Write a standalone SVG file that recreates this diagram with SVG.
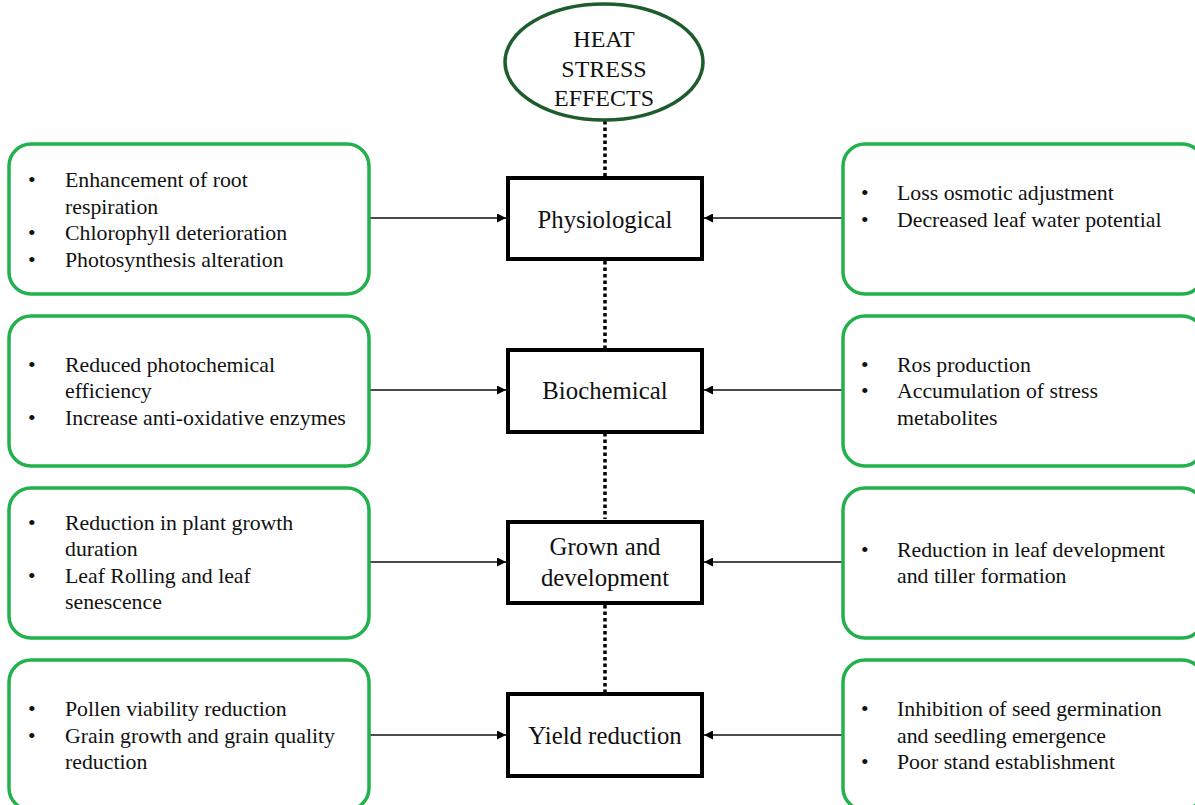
<svg xmlns="http://www.w3.org/2000/svg" width="1195" height="805" viewBox="0 0 1195 805">
<style>
.side{fill:#fff;stroke:#22b14c;stroke-width:3.5}
.mid{fill:#fff;stroke:#000;stroke-width:4}
.t{font-family:"Liberation Serif","Times New Roman",serif;font-size:21.8px;fill:#111}
.c{font-family:"Liberation Serif","Times New Roman",serif;font-size:24.8px;fill:#111;text-anchor:middle}
.e{font-family:"Liberation Serif","Times New Roman",serif;font-size:24px;fill:#111;text-anchor:middle}
.arr{stroke:#111;stroke-width:1.5;fill:none;marker-end:url(#ah)}
.dot{stroke:#000;stroke-width:3.5;stroke-dasharray:3.5 3;fill:none}
</style>
<defs>
<marker id="ah" viewBox="0 0 10 10" refX="10" refY="5" markerWidth="7" markerHeight="6" orient="auto" markerUnits="strokeWidth">
<path d="M0,0 L10,5 L0,10 z" fill="#000"/>
</marker>
</defs>
<rect width="1195" height="805" fill="#fff"/>
<g id="connectors">
<line class="dot" x1="605" y1="121" x2="605" y2="176"/>
<line class="dot" x1="605" y1="261" x2="605" y2="348"/>
<line class="dot" x1="605" y1="433" x2="605" y2="519"/>
<line class="dot" x1="605" y1="605" x2="605" y2="692"/>
<line class="arr" x1="369" y1="218" x2="506" y2="218"/>
<line class="arr" x1="843" y1="218" x2="704" y2="218"/>
<line class="arr" x1="369" y1="390" x2="506" y2="390"/>
<line class="arr" x1="843" y1="390" x2="704" y2="390"/>
<line class="arr" x1="369" y1="562" x2="506" y2="562"/>
<line class="arr" x1="843" y1="562" x2="704" y2="562"/>
<line class="arr" x1="369" y1="735" x2="506" y2="735"/>
<line class="arr" x1="843" y1="735" x2="704" y2="735"/>
</g>
<g id="heat-stress">
<ellipse cx="604" cy="62" rx="99" ry="58" fill="#fff" stroke="#1d5c2c" stroke-width="3.5"/>
<text class="e" x="604" y="47">HEAT</text>
<text class="e" x="604" y="77">STRESS</text>
<text class="e" x="604" y="106">EFFECTS</text>
</g>
<g id="physiological">
<rect class="mid" x="508" y="178" width="194" height="81"/>
<text class="c" x="605" y="228">Physiological</text>
</g>
<g id="biochemical">
<rect class="mid" x="508" y="350" width="194" height="82"/>
<text class="c" x="605" y="399">Biochemical</text>
</g>
<g id="growth">
<rect class="mid" x="508" y="522" width="194" height="81"/>
<text class="c" x="605" y="555">Grown and</text>
<text class="c" x="605" y="586">development</text>
</g>
<g id="yield">
<rect class="mid" x="508" y="694" width="194" height="82"/>
<text class="c" x="605" y="744">Yield reduction</text>
</g>
<g id="left-physiological">
<rect class="side" x="9" y="144" width="360" height="150" rx="22"/>
<text class="t" x="28" y="187">•</text><text class="t" x="65" y="187">Enhancement of root</text>
<text class="t" x="65" y="214">respiration</text>
<text class="t" x="28" y="240">•</text><text class="t" x="65" y="240">Chlorophyll deterioration</text>
<text class="t" x="28" y="267">•</text><text class="t" x="65" y="267">Photosynthesis alteration</text>
</g>
<g id="right-physiological">
<rect class="side" x="843" y="144" width="361" height="150" rx="22"/>
<text class="t" x="861" y="200">•</text><text class="t" x="897" y="200">Loss osmotic adjustment</text>
<text class="t" x="861" y="227">•</text><text class="t" x="897" y="227">Decreased leaf water potential</text>
</g>
<g id="left-biochemical">
<rect class="side" x="9" y="316" width="360" height="150" rx="22"/>
<text class="t" x="28" y="372">•</text><text class="t" x="65" y="372">Reduced photochemical</text>
<text class="t" x="65" y="398">efficiency</text>
<text class="t" x="28" y="425">•</text><text class="t" x="65" y="425">Increase anti-oxidative enzymes</text>
</g>
<g id="right-biochemical">
<rect class="side" x="843" y="316" width="361" height="150" rx="22"/>
<text class="t" x="861" y="372">•</text><text class="t" x="897" y="372">Ros production</text>
<text class="t" x="861" y="398">•</text><text class="t" x="897" y="398">Accumulation of stress</text>
<text class="t" x="897" y="425">metabolites</text>
</g>
<g id="left-growth">
<rect class="side" x="9" y="488" width="360" height="150" rx="22"/>
<text class="t" x="28" y="530">•</text><text class="t" x="65" y="530">Reduction in plant growth</text>
<text class="t" x="65" y="556">duration</text>
<text class="t" x="28" y="583">•</text><text class="t" x="65" y="583">Leaf Rolling and leaf</text>
<text class="t" x="65" y="609">senescence</text>
</g>
<g id="right-growth">
<rect class="side" x="843" y="488" width="361" height="150" rx="22"/>
<text class="t" x="861" y="557">•</text><text class="t" x="897" y="557">Reduction in leaf development</text>
<text class="t" x="897" y="583">and tiller formation</text>
</g>
<g id="left-yield">
<rect class="side" x="9" y="660" width="360" height="150" rx="22"/>
<text class="t" x="28" y="716">•</text><text class="t" x="65" y="716">Pollen viability reduction</text>
<text class="t" x="28" y="743">•</text><text class="t" x="65" y="743">Grain growth and grain quality</text>
<text class="t" x="65" y="769">reduction</text>
</g>
<g id="right-yield">
<rect class="side" x="843" y="660" width="361" height="150" rx="22"/>
<text class="t" x="861" y="716">•</text><text class="t" x="897" y="716">Inhibition of seed germination</text>
<text class="t" x="897" y="743">and seedling emergence</text>
<text class="t" x="861" y="769">•</text><text class="t" x="897" y="769">Poor stand establishment</text>
</g>
</svg>
